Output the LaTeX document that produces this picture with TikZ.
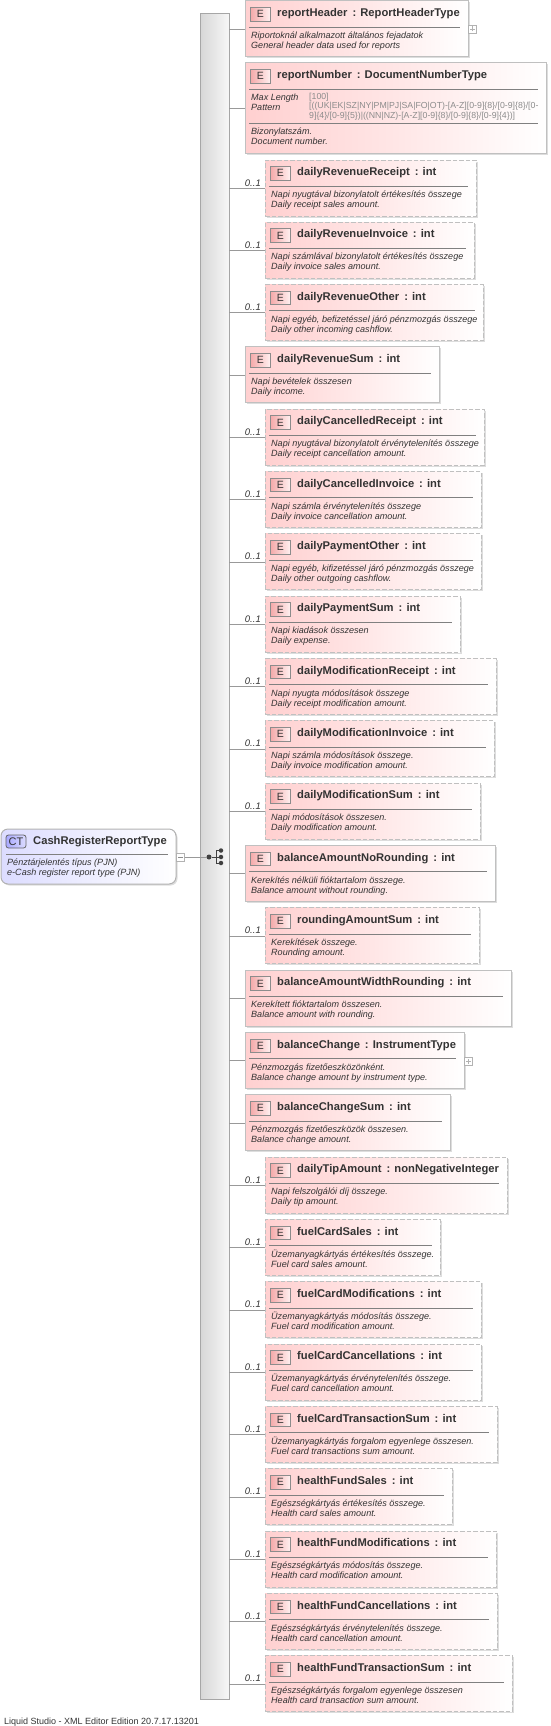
\documentclass[tikz,border=0pt]{standalone}
\usepackage{fontspec}
\setmainfont{Liberation Sans}
\usetikzlibrary{shadows,calc}
\definecolor{elpink}{HTML}{FFD0D0}
\definecolor{elmid}{HTML}{FFE6E6}
\definecolor{badgepink}{HTML}{F4A8A8}
\definecolor{edge}{HTML}{C0C0C0}
\definecolor{inkc}{HTML}{333333}
\definecolor{ctblue}{HTML}{DCDCFF}
\definecolor{ctmid}{HTML}{EEEEFF}
\pgfdeclarehorizontalshading{elshade}{100bp}{color(0bp)=(elpink);color(25bp)=(elpink);color(50bp)=(elmid);color(75bp)=(white);color(100bp)=(white)}
\pgfdeclarehorizontalshading{ctshade}{100bp}{color(0bp)=(ctblue);color(25bp)=(ctblue);color(50bp)=(ctmid);color(75bp)=(white);color(100bp)=(white)}
\tikzset{
  elbase/.style={anchor=north west,inner sep=0pt,outer sep=0pt,draw=edge,line width=1pt,
    shading=elshade,drop shadow={shadow xshift=1.5pt,shadow yshift=-1.5pt,fill=black!22,opacity=.6}},
  solidel/.style={elbase},
  dashel/.style={elbase,dash pattern=on 4.5pt off 2pt},
  badge/.style={anchor=north west,inner sep=0pt,outer sep=0pt,minimum width=20.5pt,minimum height=13.5pt,
    draw=black!45,line width=.8pt,left color=badgepink,right color=elpink!30!white,text=inkc,font=\fontsize{10.5}{11}\selectfont},
  titletext/.style={anchor=base west,inner sep=0pt,font=\fontsize{11.2}{12}\selectfont\bfseries,text=inkc},
  desctext/.style={anchor=base west,inner sep=0pt,font=\fontsize{9.05}{10}\selectfont\itshape,text=inkc},
  facettext/.style={anchor=base west,inner sep=0pt,font=\fontsize{8.75}{9}\selectfont,text=black!45},
  occtext/.style={anchor=base east,inner sep=0pt,font=\fontsize{9.5}{10}\selectfont\itshape,text=inkc},
  sepline/.style={draw=black!50,line width=.8pt},
  conn/.style={draw=black!40,line width=.8pt},
  expander/.style={draw=black!30,fill=white,line width=.7pt,minimum size=8pt,inner sep=0pt,outer sep=0pt},
  seqdot/.style={circle,fill=black!75,inner sep=0pt,minimum size=5pt,outer sep=0pt},
}
% style, id, left, top, right, title, desc1, desc2
\newcommand\elembox[8]{%
  \pgfmathsetlengthmacro\elw{(#5-#3)*1pt}%
  \node[#1,minimum width=\elw,minimum height=56pt] (#2) at (#3,#4) {};
  \node[badge] (#2-b) at ($(#2.north west)+(5,6.5)$) {E};
  \node[titletext] (#2-t) at ($(#2.north west)+(32,15.5)$) {#6};
  \coordinate (#2-sl) at ($(#2.north west)+(4,26)$);
  \coordinate (#2-sr) at ($(#2.north east)+(-8,26)$);
  \draw[sepline] (#2-sl) -- (#2-sr);
  \node[desctext] (#2-d1) at ($(#2.north west)+(6,37.5)$) {#7};
  \node[desctext] (#2-d2) at ($(#2.north west)+(6,47.5)$) {#8};
  \draw[conn] (#2.west -| bar.east) -- (#2.west);
}
\newcommand\opt[6]{% id,row,right,title,d1,d2
  \pgfmathsetmacro\elt{160+62.33*#2}%
  \elembox{dashel}{#1}{265}{\elt}{#3}{#4}{#5}{#6}
  \node[occtext] (#1-o) at ($(#1.west)+(-4,-2)$) {0..1};
}
\newcommand\req[6]{%
  \pgfmathsetmacro\elt{160+62.33*#2}%
  \elembox{solidel}{#1}{245}{\elt}{#3}{#4}{#5}{#6}
}
\begin{document}
\begin{tikzpicture}[x=1pt,y=-1pt]
\useasboundingbox (0,0) rectangle (551,1726);
\node[anchor=north west,inner sep=0pt,outer sep=0pt,minimum width=29pt,minimum height=1685pt,
  draw=black!35,line width=1pt,left color=black!16,right color=black!3,
  drop shadow={shadow xshift=1pt,shadow yshift=-1pt,fill=black!20,opacity=.6}] (bar) at (200,14) {};

% root type
\node[anchor=north west,inner sep=0pt,outer sep=0pt,minimum width=175pt,minimum height=55pt,rounded corners=7pt,
  draw=black!30,line width=1pt,shading=ctshade,
  drop shadow={shadow xshift=1.5pt,shadow yshift=-1.5pt,fill=black!22,opacity=.6}] (root) at (1,829) {};
\node[anchor=north west,inner sep=0pt,outer sep=0pt,minimum width=20pt,minimum height=13pt,rounded corners=2.5pt,
  draw=black!60,line width=.8pt,left color=ctblue!60!blue!70,right color=ctblue,text=inkc,font=\fontsize{11}{12}\selectfont] (rootb) at (6,835) {CT};
\node[titletext] (roott) at (33,844) {CashRegisterReportType};
\coordinate (rootsl) at (6,854);
\coordinate (rootsr) at (168,854);
\draw[sepline] (rootsl) -- (rootsr);
\node[desctext] (rootd1) at (7,865) {Pénztárjelentés típus (PJN)};
\node[desctext] (rootd2) at (7,875) {e-Cash register report type (PJN)};
\node[expander] (rootx) at (180.5,857) {};
\draw[black!45,line width=.7pt] ([xshift=-2.5pt]rootx.center) -- ([xshift=2.5pt]rootx.center);

% sequence symbol
\node[seqdot] (sq0) at (209,857) {};
\node[seqdot,minimum size=4.5pt] (sq1) at (221,850.5) {};
\node[seqdot,minimum size=4.5pt] (sq2) at (221,857) {};
\node[seqdot,minimum size=4.5pt] (sq3) at (221,863) {};
\coordinate (sqa) at (216,850.5);
\coordinate (sqb) at (216,863);
\draw[black!75,line width=1pt] (sq0) -- (sq2);
\draw[black!75,line width=1pt] (sq1) -- (sqa) -- (sqb) -- (sq3);
\draw[conn] (rootx) -- (sq0);

% first two elements
\elembox{solidel}{reportHeader}{245}{1}{468}{reportHeader\, : ReportHeaderType}{Riportoknál alkalmazott általános fejadatok}{General header data used for reports}
\node[expander] (reportHeaderx) at (472.5,29) {};
\draw[black!30,line width=.7pt] ([xshift=-2.5pt]reportHeaderx.center) -- ([xshift=2.5pt]reportHeaderx.center);
\draw[black!30,line width=.7pt] ([yshift=-2.5pt]reportHeaderx.center) -- ([yshift=2.5pt]reportHeaderx.center);

\node[solidel,minimum width=301pt,minimum height=90pt] (reportNumber) at (245,63) {};
\node[badge] (rnb) at (250,69.5) {E};
\node[titletext] (rnt) at (277,78.5) {reportNumber\, : DocumentNumberType};
\coordinate (rns1l) at (249,89); \coordinate (rns1r) at (538,89);
\coordinate (rns2l) at (249,123); \coordinate (rns2r) at (538,123);
\draw[sepline] (rns1l) -- (rns1r);
\draw[sepline] (rns2l) -- (rns2r);
\node[desctext] (rnf1) at (251,100.5) {Max Length};
\node[desctext] (rnf2) at (251,110.5) {Pattern};
\node[facettext] (rnv1) at (309,100) {[100]};
\node[facettext] (rnv2) at (309,109) {[((UK|EK|SZ|NY|PM|PJ|SA|FO|OT)-[A-Z][0-9]\{8\}/[0-9]\{8\}/[0-};
\node[facettext] (rnv3) at (309,119) {9]\{4\}/[0-9]\{5\})|((NN|NZ)-[A-Z][0-9]\{8\}/[0-9]\{8\}/[0-9]\{4\})]};
\node[desctext] (rnd1) at (251,134.5) {Bizonylatszám.};
\node[desctext] (rnd2) at (251,144.5) {Document number.};
\draw[conn] (reportNumber.west -| bar.east) -- (reportNumber.west);

\opt{e0}{0}{476}{dailyRevenueReceipt\, : int}{Napi nyugtával bizonylatolt értékesítés összege}{Daily receipt sales amount.}
\opt{e1}{1}{474}{dailyRevenueInvoice\, : int}{Napi számlával bizonylatolt értékesítés összege}{Daily invoice sales amount.}
\opt{e2}{2}{483}{dailyRevenueOther\, : int}{Napi egyéb, befizetéssel járó pénzmozgás összege}{Daily other incoming cashflow.}
\req{e3}{3}{439}{dailyRevenueSum\, : int}{Napi bevételek összesen}{Daily income.}
\opt{e4}{4}{484}{dailyCancelledReceipt\, : int}{Napi nyugtával bizonylatolt érvénytelenítés összege}{Daily receipt cancellation amount.}
\opt{e5}{5}{481}{dailyCancelledInvoice\, : int}{Napi számla érvénytelenítés összege}{Daily invoice cancellation amount.}
\opt{e6}{6}{481}{dailyPaymentOther\, : int}{Napi egyéb, kifizetéssel járó pénzmozgás összege}{Daily other outgoing cashflow.}
\opt{e7}{7}{460}{dailyPaymentSum\, : int}{Napi kiadások összesen}{Daily expense.}
\opt{e8}{8}{496}{dailyModificationReceipt\, : int}{Napi nyugta módosítások összege}{Daily receipt modification amount.}
\opt{e9}{9}{494}{dailyModificationInvoice\, : int}{Napi számla módosítások összege.}{Daily invoice modification amount.}
\opt{e10}{10}{480}{dailyModificationSum\, : int}{Napi módosítások összesen.}{Daily modification amount.}
\req{e11}{11}{495}{balanceAmountNoRounding\, : int}{Kerekítés nélküli fióktartalom összege.}{Balance amount without rounding.}
\opt{e12}{12}{479}{roundingAmountSum\, : int}{Kerekítések összege.}{Rounding amount.}
\req{e13}{13}{511}{balanceAmountWidthRounding\, : int}{Kerekített fióktartalom összesen.}{Balance amount with rounding.}
\req{e14}{14}{464}{balanceChange\, : InstrumentType}{Pénzmozgás fizetőeszközönként.}{Balance change amount by instrument type.}
\req{e15}{15}{450}{balanceChangeSum\, : int}{Pénzmozgás fizetőeszközök összesen.}{Balance change amount.}
\opt{e16}{16}{507}{dailyTipAmount\, : nonNegativeInteger}{Napi felszolgálói díj összege.}{Daily tip amount.}
\opt{e17}{17}{440}{fuelCardSales\, : int}{Üzemanyagkártyás értékesítés összege.}{Fuel card sales amount.}
\opt{e18}{18}{481}{fuelCardModifications\, : int}{Üzemanyagkártyás módosítás összege.}{Fuel card modification amount.}
\opt{e19}{19}{481}{fuelCardCancellations\, : int}{Üzemanyagkártyás érvénytelenítés összege.}{Fuel card cancellation amount.}
\opt{e20}{20}{497}{fuelCardTransactionSum\, : int}{Üzemanyagkártyás forgalom egyenlege összesen.}{Fuel card transactions sum amount.}
\opt{e21}{21}{452}{healthFundSales\, : int}{Egészségkártyás értékesítés összege.}{Health card sales amount.}
\opt{e22}{22}{496}{healthFundModifications\, : int}{Egészségkártyás módosítás összege.}{Health card modification amount.}
\opt{e23}{23}{497}{healthFundCancellations\, : int}{Egészségkártyás érvénytelenítés összege.}{Health card cancellation amount.}
\opt{e24}{24}{512}{healthFundTransactionSum\, : int}{Egészségkártyás forgalom egyenlege összesen}{Health card transaction sum amount.}

\node[expander] (e14x) at (468.5,1061) {};
\draw[black!30,line width=.7pt] ([xshift=-2.5pt]e14x.center) -- ([xshift=2.5pt]e14x.center);
\draw[black!30,line width=.7pt] ([yshift=-2.5pt]e14x.center) -- ([yshift=2.5pt]e14x.center);

\node[anchor=base west,inner sep=0pt,font=\fontsize{9}{10}\selectfont,text=inkc] (footer) at (4,1724) {Liquid Studio - XML Editor Edition 20.7.17.13201};
\end{tikzpicture}
\end{document}
